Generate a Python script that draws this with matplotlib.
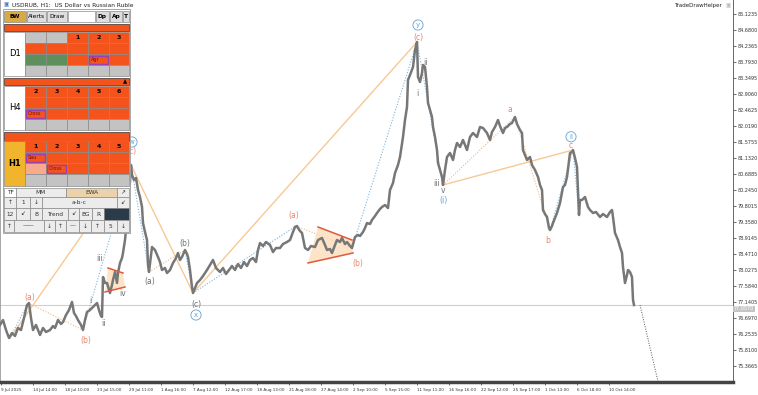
import matplotlib
matplotlib.use("Agg")
import matplotlib.pyplot as plt
from matplotlib.patches import Rectangle, Polygon

# ---- data (bar index, price) ----
bars = [0, 3, 6, 9, 12, 15, 18, 21, 24, 27, 29, 31, 33, 36, 40, 43, 46, 50, 53, 55,
        58, 61, 63, 66, 69, 72, 74, 76, 78, 81, 83, 85, 87, 90, 92, 95, 97, 99, 101, 102,
        103, 105, 107, 110, 112, 113, 115, 117, 118, 120, 122, 123, 125, 126, 127, 128, 130, 131, 132, 134,
        136, 138, 140, 142, 143, 145, 147, 148, 149, 151, 152, 155, 158, 160, 162, 165, 167, 170, 173, 176,
        178, 180, 182, 185, 187, 188, 190, 192, 193, 195, 197, 200, 203, 207, 210, 213, 216, 218, 220, 223,
        226, 229, 232, 235, 238, 241, 244, 247, 250, 253, 256, 258, 260, 263, 266, 270, 273, 276, 280, 283,
        287, 290, 293, 295, 297, 298, 300, 302, 305, 308, 311, 315, 318, 322, 325, 327, 330, 332, 335, 337,
        340, 342, 345, 347, 350, 352, 355, 358, 360, 363, 365, 367, 370, 372, 375, 377, 380, 382, 385, 388,
        390, 393, 395, 398, 400, 403, 405, 407, 408, 410, 413, 415, 417, 418, 420, 422, 423, 425, 427, 428,
        430, 432, 433, 435, 437, 438, 440, 442, 443, 445, 447, 450, 453, 455, 457, 460, 463, 465, 467, 470,
        473, 477, 480, 483, 487, 490, 492, 495, 498, 500, 503, 505, 507, 510, 512, 515, 517, 520, 522, 523,
        525, 527, 530, 532, 535, 538, 540, 542, 543, 545, 547, 549, 550, 552, 553, 555, 557, 560, 563, 565,
        567, 570, 572, 573, 575, 577, 578, 579, 580, 582, 585, 588, 590, 593, 596, 600, 603, 607, 610, 612,
        613, 615, 618, 620, 622, 623, 625, 627, 628, 630, 632, 633, 634]
close = [76.503, 76.641, 76.364, 76.143, 76.281, 76.198, 76.420, 76.364, 76.697, 77.057, 77.113, 76.697, 76.364, 76.503, 76.226, 76.420, 76.309, 76.364, 76.475, 76.420,
         76.641, 76.531, 76.586, 76.780, 76.919, 77.141, 76.836, 76.752, 76.641, 76.503, 76.364, 76.641, 76.863, 76.919, 76.974, 77.057, 77.113, 76.919, 76.752, 76.725,
         77.833, 77.667, 77.667, 77.390, 77.612, 77.750, 77.972, 77.667, 77.944, 78.222, 78.360, 78.499, 78.859, 79.136, 79.469, 79.968, 80.467, 80.938, 80.661, 80.522,
         80.578, 80.245, 80.051, 79.774, 79.330, 79.081, 78.859, 78.166, 77.972, 78.443, 78.665, 78.582, 78.388, 78.249, 78.028, 78.083, 77.944, 78.028, 78.222, 78.360,
         78.499, 78.305, 78.388, 78.582, 78.471, 78.388, 78.028, 77.556, 77.390, 77.529, 77.667, 77.750, 77.861, 78.028, 78.166, 78.305, 78.083, 78.028, 77.972, 78.083,
         77.917, 78.028, 78.138, 78.028, 78.194, 78.083, 78.249, 78.138, 78.305, 78.360, 78.249, 78.582, 78.776, 78.693, 78.804, 78.721, 78.526, 78.637, 78.637, 78.748,
         78.804, 78.859, 79.081, 79.220, 79.247, 79.192, 79.109, 79.053, 78.637, 78.582, 78.693, 78.665, 78.859, 78.915, 78.721, 78.582, 78.610, 78.499, 78.721, 78.859,
         78.804, 78.915, 78.748, 78.804, 78.693, 78.637, 78.942, 78.998, 78.970, 79.081, 79.192, 79.330, 79.303, 79.414, 79.525, 79.608, 79.719, 79.774, 79.829, 79.746,
         80.245, 80.439, 80.716, 80.938, 81.160, 81.714, 82.186, 82.546, 83.294, 83.433, 83.655, 84.126, 84.348, 83.378, 83.239, 83.488, 83.710, 83.655, 83.100, 82.657,
         82.463, 82.269, 81.992, 81.714, 81.354, 80.994, 80.800, 80.606, 80.384, 80.800, 81.160, 81.271, 81.077, 81.354, 81.548, 81.437, 81.631, 81.493, 81.354, 81.714,
         81.825, 81.714, 81.992, 81.964, 81.825, 81.631, 81.853, 81.992, 82.186, 82.019, 81.825, 81.964, 81.992, 82.075, 82.102, 82.269, 82.075, 81.908, 81.825, 81.354,
         81.215, 81.077, 81.160, 80.938, 80.800, 80.606, 80.384, 80.245, 79.691, 79.580, 79.497, 79.192, 79.136, 79.247, 79.330, 79.469, 79.608, 79.885, 80.328, 80.384,
         80.606, 81.271, 81.299, 81.354, 81.132, 80.883, 80.245, 79.552, 79.968, 79.968, 80.051, 79.774, 79.691, 79.608, 79.635, 79.497, 79.580, 79.497, 79.635, 79.691,
         79.497, 79.053, 78.859, 78.665, 78.499, 78.110, 77.667, 77.889, 78.028, 77.972, 77.833, 77.196, 77.057]

price_ticks = [85.1235, 84.6800, 84.2365, 83.7930, 83.3495, 82.9060, 82.4625, 82.0190,
               81.5755, 81.1320, 80.6885, 80.2450, 79.8015, 79.3580, 78.9145, 78.4710,
               78.0275, 77.5840, 77.1405, 76.6970, 76.2535, 75.8100, 75.3665]
date_labels = ["9 Jul 2025", "14 Jul 14:00", "18 Jul 10:00", "23 Jul 15:00", "29 Jul 11:00",
               "1 Aug 16:00", "7 Aug 12:00", "12 Aug 17:00", "18 Aug 13:00", "21 Aug 18:00",
               "27 Aug 14:00", "2 Sep 10:00", "5 Sep 15:00", "11 Sep 11:00", "16 Sep 16:00",
               "22 Sep 12:00", "25 Sep 17:00", "1 Oct 13:00", "6 Oct 18:00", "10 Oct 14:00"]
date_bars = [1, 33, 65, 97, 129, 161, 193, 225, 257, 289, 321, 353, 385, 417, 449, 481,
             513, 545, 577, 609]
last_price = 77.057

# wave pivots (bar, price)
pivots = {
    "p0": (10, 76.143), "a1": (28, 77.113), "b1": (83, 76.364), "w": (131, 80.938),
    "a2": (149, 77.972), "b2": (185, 78.582), "x": (193, 77.390), "a3": (296, 79.247),
    "b3": (352, 78.637), "y": (417, 84.348), "i": (443, 80.384), "a4": (515, 82.269),
    "b4": (550, 79.136), "ii": (573, 81.354), "n1": (579, 79.552),
}
solid_legs = [("p0", "w"), ("w", "x"), ("x", "y"), ("i", "ii")]
blue_legs = [("p0", "a1"), ("b1", "w"), ("w", "a2"), ("b2", "x"), ("x", "a3"),
             ("b3", "y"), ("y", "i"), ("b4", "ii"), ("ii", "n1")]
orange_legs = [("a1", "b1"), ("a2", "b2"), ("a3", "b3"), ("i", "a4"), ("a4", "b4")]

tri_big = [(318, 79.220), (352, 78.859), (353, 78.499), (308, 78.222)]
tri_small = [(108, 78.083), (123, 77.944), (125, 77.556), (105, 77.418)]

# (text, bar, price, colour, circled)
wave_labels = [
    ("(a)", 30, 77.252, "salmon", False), ("(b)", 86, 76.087, "salmon", False),
    ("i", 90, 77.196, "gray", False), ("ii", 103, 76.558, "gray", False),
    ("iii", 100, 78.360, "gray", False), ("iv", 123, 77.390, "gray", False),
    ("w", 132, 81.576, "blue", True), ("(c)", 131, 81.299, "salmon", False),
    ("(a)", 150, 77.695, "gray", False), ("(b)", 185, 78.776, "gray", False),
    ("(c)", 196, 77.085, "gray", False), ("x", 196, 76.780, "blue", True),
    ("(a)", 294, 79.525, "salmon", False), ("(b)", 358, 78.194, "salmon", False),
    ("y", 418, 84.819, "blue", True), ("(c)", 418, 84.459, "salmon", False),
    ("i", 417, 82.934, "gray", False), ("ii", 426, 83.766, "gray", False),
    ("iii", 437, 80.439, "gray", False), ("v", 443, 80.245, "gray", False),
    ("(i)", 444, 79.968, "blue", False), ("a", 510, 82.463, "salmon", False),
    ("b", 548, 78.859, "salmon", False), ("c", 571, 81.465, "salmon", False),
    ("ii", 571, 81.721, "blue", True),
]
label_colors = {"salmon": "#e8866c", "gray": "#707070", "blue": "#5fa3d3"}

W, H = 758, 395
fig = plt.figure(figsize=(W / 100, H / 100), dpi=100)
fig.patch.set_facecolor("white")

ax = fig.add_axes([0, (H - 382) / H, 733 / W, 382 / H])
ax.set_xlim(0, 733)
ax.set_ylim(74.923, 85.512)

ax.axhline(last_price, color="#cfcfcf", lw=0.8, zorder=1)
ax.plot(bars, close, color="#777777", lw=1.8, zorder=3)

for a, b in solid_legs:
    (x0, y0), (x1, y1) = pivots[a], pivots[b]
    ax.plot([x0, x1], [y0, y1], color="#f6c995", lw=1.0, zorder=2)
for a, b in blue_legs:
    (x0, y0), (x1, y1) = pivots[a], pivots[b]
    ax.plot([x0, x1], [y0, y1], color="#7ab3dc", lw=0.8, ls=(0, (1, 1.5)), zorder=2)
for a, b in orange_legs:
    (x0, y0), (x1, y1) = pivots[a], pivots[b]
    ax.plot([x0, x1], [y0, y1], color="#f5b77a", lw=0.8, ls=(0, (1, 1.5)), zorder=2)
ax.plot([640, 658], [last_price, 74.94], color="#555555", lw=0.7, ls=(0, (1, 1.5)), zorder=2)

for tri in (tri_big, tri_small):
    ax.add_patch(Polygon(tri, closed=True, fc="#fddcb8", ec="none", alpha=0.75, zorder=2))
    ax.plot([tri[0][0], tri[1][0]], [tri[0][1], tri[1][1]], color="#e0583c", lw=1.1, zorder=4)
    ax.plot([tri[3][0], tri[2][0]], [tri[3][1], tri[2][1]], color="#e0583c", lw=1.1, zorder=4)

for txt, bx, py, col, circ in wave_labels:
    kw = {}
    fs = 5.5
    if circ:
        fs = 5
        kw["bbox"] = dict(boxstyle="circle,pad=0.3", fc="white", ec=label_colors[col], lw=0.6)
    ax.text(bx, py, txt, color=label_colors[col], fontsize=fs, ha="center", va="center",
            zorder=5, **kw)

ax.yaxis.tick_right()
ax.set_yticks(price_ticks)
ax.set_yticklabels(["%.4f" % v for v in price_ticks])
ax.set_xticks(date_bars)
ax.set_xticklabels(date_labels, ha="left")
ax.tick_params(axis="y", labelsize=3.5, length=2, width=0.5, pad=1, colors="#333333")
ax.tick_params(axis="x", labelsize=3.0, length=2, width=0.5, pad=2, colors="#333333")
ax.spines["top"].set_visible(False)
ax.spines["left"].set_color("#999999")
ax.spines["left"].set_linewidth(0.6)
ax.spines["right"].set_color("#666666")
ax.spines["right"].set_linewidth(0.7)
ax.spines["bottom"].set_color("#444444")
ax.spines["bottom"].set_linewidth(2.5)

ax.text(734, last_price - 0.11, "%.4f" % last_price, fontsize=3.5, color="white",
        va="center", ha="left", clip_on=False,
        bbox=dict(boxstyle="square,pad=0.2", fc="#c4c4c4", ec="none"))

# ---- overlay panel in pixel coordinates ----
pan = fig.add_axes([0, 0, 1, 1])
pan.set_xlim(0, W)
pan.set_ylim(H, 0)
pan.axis("off")

ORANGE = "#f4531c"
GRAY = "#c3c3c3"
GREEN = "#5f8f5c"
GOLD = "#f0b52c"
SALMON = "#f7ab8c"
BEIGE = "#ecd2aa"
NAVY = "#2c3b4c"
LIGHT = "#ececec"


def cell(x0, y0, x1, y1, fc, txt="", tc="black", fs=4.2, bold=False, ec="#8a8a8a"):
    pan.add_patch(Rectangle((x0, y0), x1 - x0, y1 - y0, fc=fc, ec=ec, lw=0.5))
    if txt:
        pan.text((x0 + x1) / 2, (y0 + y1) / 2, txt, fontsize=fs, color=tc, ha="center",
                 va="center", fontweight="bold" if bold else "normal")


def tag(x0, y0, x1, y1, txt):
    pan.add_patch(Rectangle((x0 + 1, y0 + 1.5), x1 - x0 - 2, y1 - y0 - 3, fc=ORANGE,
                            ec="#9a3fb5", lw=1.0))
    pan.text(x0 + 2.5, (y0 + y1) / 2, txt, fontsize=3.6, color="#7a1010", ha="left", va="center")


pan.text(4, 5, "\u25a3", fontsize=4, color="#4a7bc0", va="center")
pan.text(12, 5, "USDRUB, H1:  US Dollar vs Russian Ruble", fontsize=4.2, color="#222222",
         va="center")
pan.text(722, 6, "TradeDrawHelper", fontsize=4, color="#222222", va="center", ha="right")
pan.text(725, 6, "\u25a3", fontsize=4, color="#bbbbbb", va="center")

pan.add_patch(Rectangle((3, 9), 127, 224, fc="white", ec="#999999", lw=0.6))

# button row
cell(4, 11, 26, 22, "#dba943", "BW", bold=True)
cell(27, 11, 46, 22, "#dddddd", "Alerts")
cell(47, 11, 67, 22, "#dddddd", "Draw")
cell(68, 11, 95, 22, "white")
cell(96, 11, 109, 22, "#dddddd", "Dp", bold=True)
cell(110, 11, 122, 22, "#dddddd", "Ap", bold=True)
cell(123, 11, 129, 22, "#dddddd", "T", bold=True)

cols = [25, 46, 67, 88, 109, 129]


def block(label, y_rows, fills, texts, label_fc, bold_label=False):
    cell(4, y_rows[0], 25, y_rows[-1], label_fc, label, fs=6, bold=bold_label)
    for r in range(4):
        for c in range(5):
            cell(cols[c], y_rows[r], cols[c + 1], y_rows[r + 1], fills[r][c],
                 texts[r][c], fs=4.5, bold=True)


O = ORANGE
cell(4, 24, 129, 31, ORANGE, ec="#333333")
block("D1", [32, 43, 54, 65, 76],
      [[GRAY, GRAY, O, O, O], [O] * 5, [GREEN, GREEN, O, O, O], [GRAY] * 5],
      [["", "", "1", "2", "3"], [""] * 5, [""] * 5, [""] * 5], "white")
tag(88, 54, 109, 65, "Agr")

cell(4, 78, 129, 85, ORANGE, ec="#333333")
pan.text(125, 81.5, "\u25b2", fontsize=4, color="black", ha="center", va="center")
block("H4", [86, 97, 108, 119, 130],
      [[O] * 5, [O] * 5, [O] * 5, [GRAY] * 5],
      [["2", "3", "4", "5", "6"], [""] * 5, [""] * 5, [""] * 5], "white")
tag(25, 108, 46, 119, "Cross")

cell(4, 132, 129, 141, ORANGE, ec="#333333")
block("H1", [141, 152, 163, 174, 186],
      [[O] * 5, [O] * 5, [SALMON, O, O, O, O], [GRAY] * 5],
      [["1", "2", "3", "4", "5"], [""] * 5, [""] * 5, [""] * 5], GOLD, bold_label=True)
tag(25, 152, 46, 163, "Sau")
tag(46, 163, 67, 174, "Cross")

# tool rows
rows = [
    (188, 197, [(4, 16, "white", "TF"), (16, 66, LIGHT, "MM"), (66, 117, BEIGE, "EWA"),
                (117, 129, LIGHT, "\u2197")]),
    (197, 208, [(4, 16, LIGHT, "\u2191"), (16, 30, LIGHT, "1"), (30, 42, LIGHT, "\u2193"),
                (42, 117, LIGHT, "a-b-c"), (117, 129, LIGHT, "\u2199")]),
    (208, 220, [(4, 16, LIGHT, "12"), (16, 30, LIGHT, "\u2199"), (30, 42, LIGHT, "B"),
                (42, 68, LIGHT, "Trend"), (68, 79, LIGHT, "\u2199"), (79, 92, LIGHT, "BG"),
                (92, 104, LIGHT, "R"), (104, 129, NAVY, "")]),
    (220, 232, [(4, 14, LIGHT, "\u2191"), (14, 44, LIGHT, "\u2014\u2014"), (44, 55, LIGHT, "\u2193"),
                (55, 66, LIGHT, "\u2191"), (66, 79, LIGHT, "\u2014"), (79, 91, LIGHT, "\u2193"),
                (91, 104, LIGHT, "\u2191"), (104, 117, LIGHT, "5"), (117, 129, LIGHT, "\u2193")]),
]
for y0, y1, items in rows:
    for x0, x1, fc, txt in items:
        cell(x0, y0, x1, y1, fc, txt, tc="#333333", fs=4.2)

fig.savefig("out.png", dpi=100)
